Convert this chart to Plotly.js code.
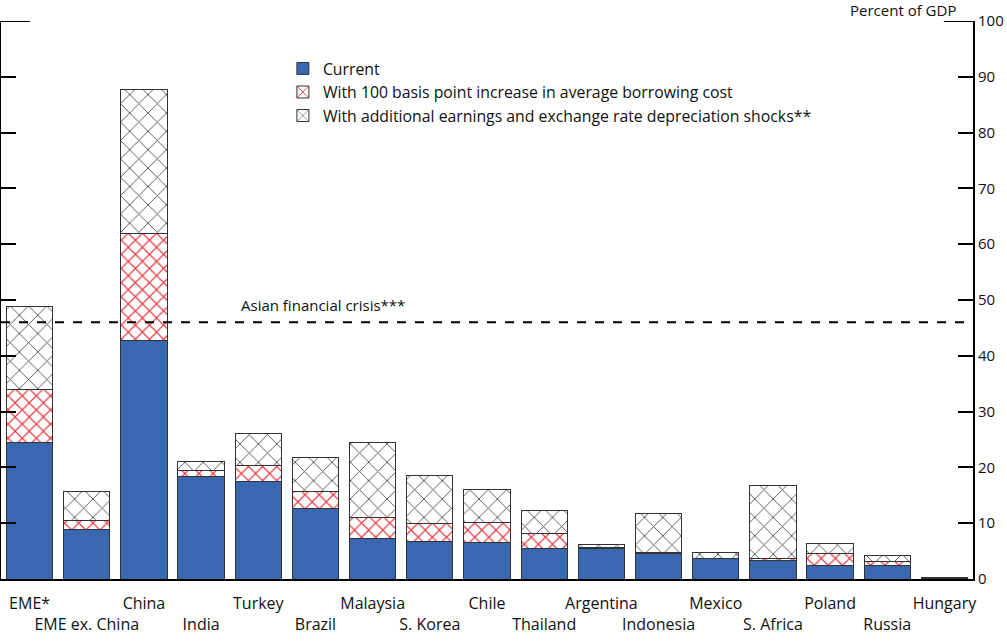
<!DOCTYPE html>
<html>
<head>
<meta charset="utf-8">
<script src="https://cdn.plot.ly/plotly-3.0.1.min.js"></script>
<style>html,body{margin:0;padding:0;background:#fff;}#chart{width:1007px;height:642px;}</style>
</head>
<body>
<div id="chart"></div>
<script>
const categories = ["EME*","EME ex. China","China","India","Turkey","Brazil","Malaysia","S. Korea","Chile","Thailand","Argentina","Indonesia","Mexico","S. Africa","Poland","Russia","Hungary"];
const current = [24.4, 8.8, 42.7, 18.3, 17.4, 12.7, 7.3, 6.8, 6.5, 5.4, 5.4, 4.6, 3.6, 3.3, 2.5, 2.4, 0.1];
const borrowingIncrease = [9.5, 1.6, 19.3, 1.2, 3.0, 2.9, 3.8, 3.2, 3.7, 2.8, 0.2, 0.2, 0.1, 0.4, 2.0, 0.7, 0.05];
const earningsShock = [15.0, 5.2, 25.8, 1.5, 5.6, 6.1, 13.3, 8.5, 5.9, 4.0, 0.6, 7.0, 1.1, 13.0, 1.8, 1.1, 0.1];
const seriesNames = ["Current","With 100 basis point increase in average borrowing cost","With additional earnings and exchange rate depreciation shocks**"];
const crisisLevel = 46;
const crisisLabel = "Asian financial crisis***";
const unitLabel = "Percent of GDP";
const yTicks = [0,10,20,30,40,50,60,70,80,90,100];

const FONT = "'Open Sans', sans-serif";
const tickText = categories.map((c,i) => i % 2 === 0 ? c : "<br>" + c);
const outline = {color:"#333", width:1};

const traces = [
  {type:"bar", name:seriesNames[0], x:categories, y:current,
   marker:{color:"#3968B0", line:outline}},
  {type:"bar", name:seriesNames[1], x:categories, y:borrowingIncrease,
   marker:{color:"#ffffff", line:outline,
     pattern:{shape:"x", fgcolor:"#E5393F", bgcolor:"#ffffff", size:10, solidity:0.22}}},
  {type:"bar", name:seriesNames[2], x:categories, y:earningsShock,
   marker:{color:"#ffffff", line:outline,
     pattern:{shape:"x", fgcolor:"#555555", bgcolor:"#ffffff", size:13, solidity:0.14}}}
];

const layout = {
  width:1007, height:642,
  margin:{l:1, r:34, t:21, b:63},
  paper_bgcolor:"#fff", plot_bgcolor:"#fff",
  barmode:"stack", bargap:0.19,
  font:{family:FONT, size:15, color:"#111"},
  showlegend:true,
  legend:{x:0.29, y:0.945, xanchor:"left", yanchor:"top", bgcolor:"rgba(0,0,0,0)",
    font:{family:FONT, size:15.8, color:"#111"}, tracegroupgap:0, traceorder:"normal", itemwidth:30},
  xaxis:{type:"category", range:[-0.5,16.5], tickmode:"array", tickvals:categories, ticktext:tickText,
    tickangle:0, automargin:false, ticklabelstandoff:9,
    ticks:"", showline:true, linecolor:"#000", linewidth:2, showgrid:false, zeroline:false,
    tickfont:{family:FONT, size:16, color:"#111"}, fixedrange:true},
  yaxis:{range:[0,100], side:"right", tickmode:"array", tickvals:yTicks, ticks:"inside", ticklen:15, tickwidth:2,
    automargin:false,
    tickcolor:"#000", showline:true, linecolor:"#000", linewidth:2, mirror:"ticks", showgrid:false, zeroline:false,
    tickfont:{family:FONT, size:15, color:"#111"}},
  shapes:[
    {type:"line", xref:"paper", yref:"y", x0:0, x1:1, y0:crisisLevel, y1:crisisLevel,
     line:{color:"#000", width:2, dash:"dash"}},
    {type:"line", xref:"paper", yref:"y", x0:0, x1:0.03, y0:100, y1:100, line:{color:"#000", width:2}},
    {type:"line", xref:"paper", yref:"y", x0:0.97, x1:1, y0:100, y1:100, line:{color:"#000", width:2}}
  ],
  annotations:[
    {xref:"paper", yref:"y", x:0.245, y:49.1, xanchor:"left", yanchor:"middle", text:crisisLabel,
     showarrow:false, font:{family:FONT, size:15, color:"#111"}},
    {xref:"paper", yref:"paper", x:0.985, y:1.019, xanchor:"right", yanchor:"middle", text:unitLabel,
     showarrow:false, font:{family:FONT, size:15, color:"#111"}}
  ]
};

Plotly.newPlot("chart", traces, layout, {displayModeBar:false, staticPlot:true});
</script>
</body>
</html>
